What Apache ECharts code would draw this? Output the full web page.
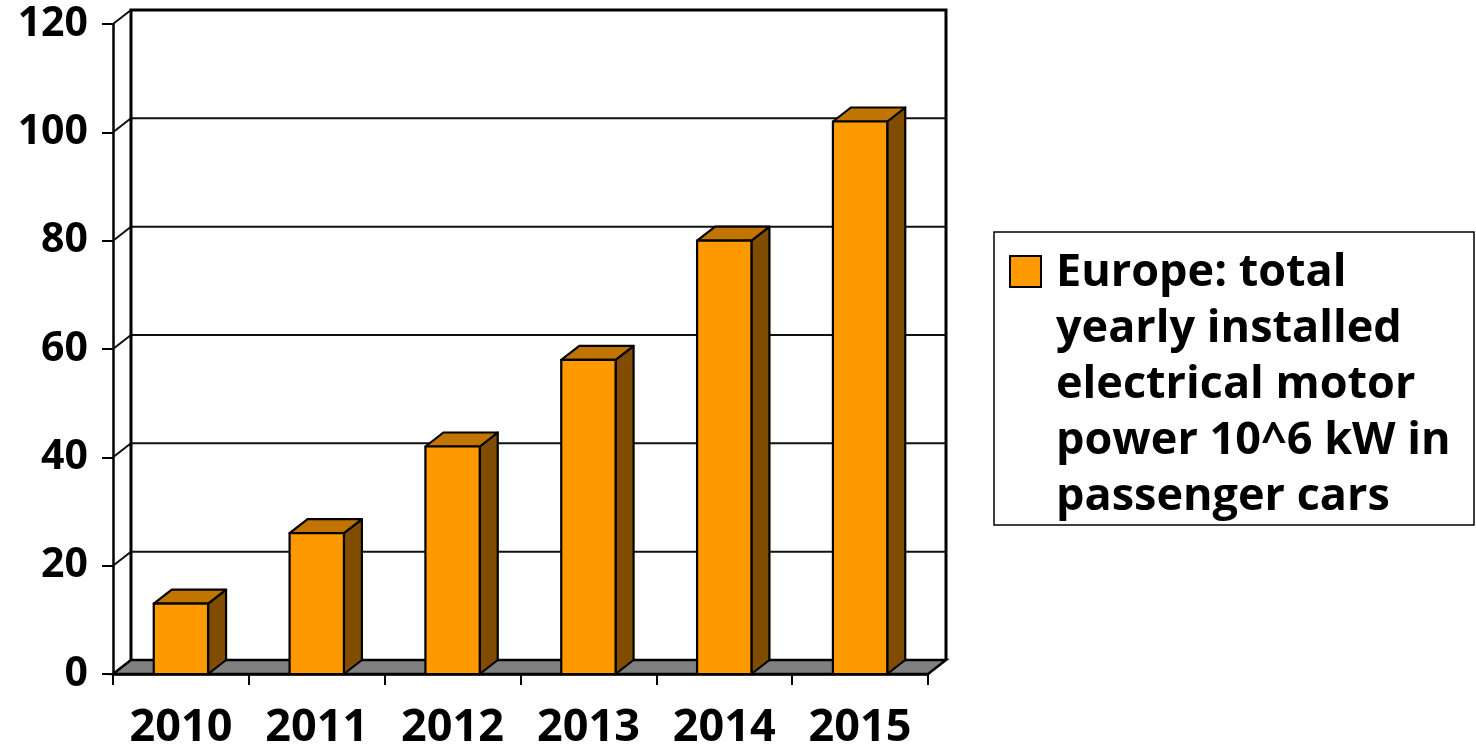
<!DOCTYPE html>
<html>
<head>
<meta charset="utf-8">
<script src="https://cdn.jsdelivr.net/npm/echarts@6/dist/echarts.min.js"></script>
<style>
  html, body { margin: 0; padding: 0; background: #fff; }
  #chart { width: 1476px; height: 751px; }
</style>
</head>
<body>
<div id="chart"></div>
<script>
// Yearly installed electrical motor power in European passenger cars
const categories = ['2010', '2011', '2012', '2013', '2014', '2015'];
const values = [13, 26, 42, 58, 80, 102];
const yTicks = [0, 20, 40, 60, 80, 100, 120];
const seriesName = 'Europe: total\nyearly installed\nelectrical motor\npower 10^6 kW in\npassenger cars';

// 3D look: depth offset of the walls and the columns
const DX = 18;
const DY = 14;
const FRONT = '#FF9900';
const TOP = '#C27400';
const SIDE = '#7F4C00';
const FONT = '"Open Sans", "Noto Sans", sans-serif';

const chart = echarts.init(document.getElementById('chart'));

// Back wall, side wall, floor and grid lines
function renderWalls(params, api) {
  const cs = params.coordSys;
  const x = cs.x, y = cs.y, w = cs.width, h = cs.height;
  const children = [];
  children.push({
    type: 'rect',
    shape: { x: x + DX, y: y - DY, width: w, height: h },
    style: { fill: '#fff', stroke: 'none' }
  });
  yTicks.forEach(function (v) {
    const yy = api.coord([0, v])[1];
    children.push({
      type: 'polyline',
      shape: { points: [[x, yy], [x + DX, yy - DY], [x + w + DX, yy - DY]] },
      style: { stroke: '#111', lineWidth: 2, fill: null }
    });
  });
  // wall outlines
  children.push({
    type: 'polyline',
    shape: { points: [[x + DX, y + h - DY], [x + DX, y - DY], [x + w + DX, y - DY], [x + w + DX, y + h - DY]] },
    style: { stroke: '#000', lineWidth: 3, fill: null }
  });
  // floor
  children.push({
    type: 'polygon',
    shape: { points: [[x, y + h], [x + w, y + h], [x + w + DX, y + h - DY], [x + DX, y + h - DY]] },
    style: { fill: '#808080', stroke: '#000', lineWidth: 2.5 }
  });
  return { type: 'group', children: children };
}

// One 3D column: side face, top face, front face
function renderBar(params, api) {
  const i = api.value(0);
  const v = api.value(1);
  const top = api.coord([i, v]);
  const base = api.coord([i, 0]);
  const bw = api.size([1, 0])[0] * 0.4;
  const x0 = top[0] - bw / 2;
  const x1 = top[0] + bw / 2;
  const yT = top[1];
  const yB = base[1];
  const edge = { stroke: '#000', lineWidth: 2.2, lineJoin: 'round' };
  return {
    type: 'group',
    children: [
      {
        type: 'polygon',
        shape: { points: [[x1, yB], [x1, yT], [x1 + DX, yT - DY], [x1 + DX, yB - DY]] },
        style: Object.assign({ fill: SIDE }, edge)
      },
      {
        type: 'polygon',
        shape: { points: [[x0, yT], [x1, yT], [x1 + DX, yT - DY], [x0 + DX, yT - DY]] },
        style: Object.assign({ fill: TOP }, edge)
      },
      {
        type: 'rect',
        shape: { x: x0, y: yT, width: bw, height: yB - yT },
        style: Object.assign({ fill: FRONT }, edge)
      }
    ]
  };
}

chart.setOption({
  animation: false,
  backgroundColor: '#fff',
  grid: { left: 113, right: 548, top: 24, bottom: 75 },
  xAxis: {
    type: 'category',
    data: categories,
    boundaryGap: true,
    axisLine: { show: true, lineStyle: { color: '#000', width: 2.5 } },
    axisTick: { show: true, alignWithLabel: false, length: 11, lineStyle: { color: '#000', width: 2 } },
    axisLabel: { color: '#000', fontFamily: FONT, fontWeight: 'bold', fontSize: 45, margin: 32 },
    splitLine: { show: false }
  },
  yAxis: {
    type: 'value',
    min: 0,
    max: 120,
    interval: 20,
    axisLine: { show: true, lineStyle: { color: '#000', width: 2.5 } },
    axisTick: { show: true, length: 11, lineStyle: { color: '#000', width: 2 } },
    axisLabel: { color: '#000', fontFamily: FONT, fontWeight: 'bold', fontSize: 41, margin: 25 },
    splitLine: { show: false }
  },
  series: [
    {
      type: 'custom',
      name: 'walls',
      silent: true,
      z: 1,
      renderItem: renderWalls,
      data: [[0, 0]]
    },
    {
      type: 'custom',
      name: seriesName,
      z: 3,
      renderItem: renderBar,
      data: categories.map(function (c, i) { return [i, values[i]]; })
    }
  ],
  graphic: [
    {
      type: 'rect',
      shape: { x: 994, y: 232, width: 480, height: 293 },
      style: { fill: '#fff', stroke: '#000', lineWidth: 1.5 }
    },
    {
      type: 'rect',
      shape: { x: 1010, y: 256, width: 31, height: 31 },
      style: { fill: FRONT, stroke: '#000', lineWidth: 2 }
    },
    {
      type: 'text',
      x: 1056,
      y: 245,
      style: {
        text: seriesName,
        fill: '#000',
        font: 'bold 45px ' + FONT,
        lineHeight: 56,
        verticalAlign: 'top',
        align: 'left'
      }
    }
  ]
});
</script>
</body>
</html>
